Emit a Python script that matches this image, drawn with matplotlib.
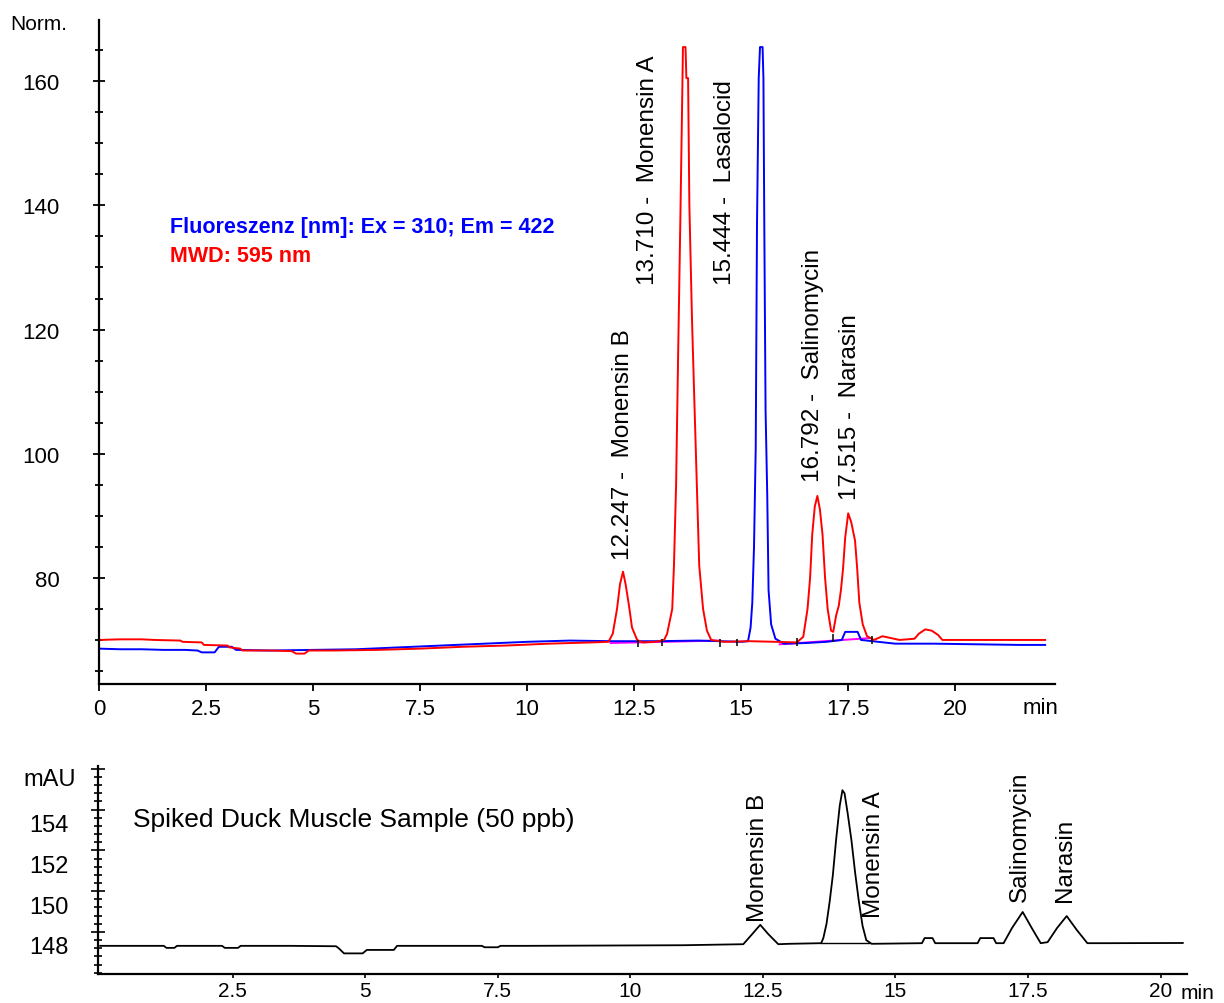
#!/usr/bin/env python3
"""
Chromatogramm: Fluoreszenz / MWD und Spiked Duck Muscle Sample
"""

import matplotlib
matplotlib.use('Agg')
import matplotlib.pyplot as plt
from matplotlib.ticker import MultipleLocator, FixedLocator
from matplotlib.transforms import ScaledTranslation

plt.rcParams['font.family'] = ['Liberation Sans', 'DejaVu Sans']

# ---- Daten oben (Norm.) ----
red_t = [0.0, 0.5, 1.0, 1.3, 1.9, 1.95, 2.4, 2.45, 3.0, 3.05, 3.3, 3.35, 4.0, 4.5, 4.6, 4.8,
         4.9, 5.5, 6.5, 7.5, 8.5, 9.5, 10.5, 11.5, 11.9, 12.0, 12.1, 12.17, 12.24, 12.3,
         12.38, 12.45, 12.57, 12.7, 13.0, 13.2, 13.27, 13.39, 13.43, 13.48, 13.53, 13.58,
         13.62, 13.64, 13.7, 13.72, 13.76, 13.79, 13.85, 13.9, 13.96, 14.02, 14.11, 14.2,
         14.3, 14.6, 15.2, 15.8, 16.3, 16.45, 16.55, 16.61, 16.66, 16.72, 16.78, 16.84,
         16.9, 16.96, 17.02, 17.1, 17.15, 17.22, 17.28, 17.33, 17.38, 17.43, 17.5, 17.57,
         17.66, 17.71, 17.76, 17.84, 17.94, 18.1, 18.3, 18.5, 18.7, 19.05, 19.15, 19.3,
         19.45, 19.6, 19.7, 20.5, 21.5, 22.1]
red_y = [70.0, 70.1, 70.1, 70.0, 69.9, 69.7, 69.6, 69.2, 69.1, 68.8, 68.6, 68.3, 68.3, 68.2, 67.8, 67.8,
         68.3, 68.3, 68.4, 68.6, 68.9, 69.1, 69.4, 69.6, 69.7, 71.0, 75.0, 79.0, 81.0, 79.0,
         75.5, 72.0, 70.0, 69.6, 69.7, 70.0, 71.0, 75.0, 82.0, 95.0, 117.0, 138.0,
         156.0, 165.5, 165.5, 160.5, 160.5, 140.0, 122.0, 110.0, 96.0, 82.0, 75.0, 71.5,
         70.0, 69.7, 69.8, 69.7, 69.6, 70.5, 75.0, 80.0, 87.0, 91.5, 93.2, 91.0,
         87.0, 80.0, 75.0, 71.5, 71.3, 74.0, 75.5, 78.0, 81.5, 86.5, 90.4, 89.0,
         86.0, 81.5, 76.0, 72.5, 70.6, 70.0, 70.6, 70.3, 70.0, 70.2, 71.0, 71.7,
         71.5, 70.8, 70.0, 70.0, 70.0, 70.0]

blue_t = [0.0, 0.5, 1.0, 1.5, 2.0, 2.3, 2.4, 2.7, 2.8, 3.1, 3.2, 4.0, 5.0, 6.0, 7.0, 8.0,
          9.0, 10.0, 11.0, 12.0, 13.0, 14.0, 15.0, 15.16, 15.22, 15.26, 15.3, 15.34, 15.37,
          15.41, 15.44, 15.5, 15.52, 15.54, 15.57, 15.61, 15.64, 15.7, 15.8, 16.0, 16.5,
          17.0, 17.35, 17.43, 17.72, 17.8, 18.2, 18.6, 19.5, 20.5, 21.5, 22.1]
blue_y = [68.6, 68.5, 68.5, 68.4, 68.4, 68.3, 68.0, 68.0, 68.9, 68.9, 68.4, 68.3, 68.4, 68.5, 68.8, 69.1,
          69.4, 69.7, 69.9, 69.8, 69.8, 69.9, 69.7, 69.8, 72.0, 76.0, 85.0, 101.0, 137.0,
          160.5, 165.5, 165.5, 160.5, 137.0, 107.0, 93.0, 78.0, 72.5, 70.2, 69.4, 69.5,
          69.7, 70.0, 71.3, 71.3, 70.0, 69.7, 69.4, 69.4, 69.3, 69.2, 69.2]

# Basislinien (magenta)
base_t = [[11.95, 14.5], [15.9, 18.0]]
base_y = [[69.5, 69.9], [69.3, 70.3]]

# Integrationsmarken
event_t = [12.6, 13.15, 14.5, 14.9, 16.3, 17.15, 18.05]
event_y = [69.4, 69.6, 69.5, 69.6, 69.7, 70.3, 70.0]

peak_rt = [12.247, 13.710, 15.444, 16.792, 17.515]
peak_name = ['Monensin B', 'Monensin A', 'Lasalocid', 'Salinomycin', 'Narasin']
label_pos = [(12.24, 83.0), (12.83, 127.4), (14.63, 127.4), (16.68, 95.6), (17.55, 92.7)]

# ---- Daten unten (mAU) ----
dad_t = [0.0, 1.2, 1.25, 1.4, 1.45, 2.3, 2.35, 2.6, 2.65, 3.6, 4.45, 4.5, 4.6, 4.95, 5.03,
         5.54, 5.6, 7.2, 7.25, 7.5, 7.55, 8.0, 8.05, 11.0, 12.13, 12.3, 12.45, 12.6, 12.79,
         13.0, 13.6, 13.64, 13.7, 13.76, 13.82, 13.88, 13.95, 14.0, 14.04, 14.1, 14.17,
         14.24, 14.31, 14.38, 14.45, 14.55, 15.5, 15.55, 15.7, 15.75, 16.55, 16.6, 16.85,
         16.9, 17.04, 17.2, 17.4, 17.57, 17.74, 17.87, 18.05, 18.23, 18.42, 18.62, 19.0,
         20.42]
dad_y = [147.32, 147.32, 147.22, 147.22, 147.32, 147.32, 147.22, 147.22, 147.32, 147.32, 147.3, 147.2, 146.95, 146.95, 147.12,
         147.12, 147.32, 147.32, 147.25, 147.25, 147.32, 147.32, 147.32, 147.35, 147.4, 147.9, 148.35, 147.9, 147.4,
         147.42, 147.45, 147.7, 148.4, 149.5, 150.8, 152.5, 154.2, 154.95, 154.8, 153.8, 152.5,
         150.9, 149.5, 148.3, 147.6, 147.42, 147.45, 147.7, 147.7, 147.45, 147.45, 147.7, 147.7,
         147.45, 147.45, 148.2, 148.98, 148.2, 147.45, 147.5, 148.2, 148.78, 148.1, 147.45, 147.45,
         147.46]
dad_base_t = [13.6, 14.5]
dad_base_y = [147.45, 147.45]

dad_peak_name = ['Monensin B', 'Monensin A', 'Salinomycin', 'Narasin']
dad_label_pos = [(12.4, 148.55), (14.6, 148.75), (17.35, 149.5), (18.2, 149.5)]

x_ticks_top = [0, 2.5, 5, 7.5, 10, 12.5, 15, 17.5, 20]
x_labels_top = ['0', '2.5', '5', '7.5', '10', '12.5', '15', '17.5', '20']
y_ticks_top = [80, 100, 120, 140, 160]
x_ticks_bot = [2.5, 5, 7.5, 10, 12.5, 15, 17.5, 20]
x_labels_bot = ['2.5', '5', '7.5', '10', '12.5', '15', '17.5', '20']
y_ticks_bot = [148, 150, 152, 154, 156]
y_labels_bot = ['148', '150', '152', '154', '']


def style_axes(ax):
    for s in ['top', 'right']:
        ax.spines[s].set_visible(False)
    for s in ['left', 'bottom']:
        ax.spines[s].set_linewidth(1.6)
        ax.spines[s].set_color('black')


fig = plt.figure(figsize=(12.24, 10.04), dpi=100)

# ---------------- oberes Chromatogramm ----------------
ax1 = fig.add_axes([0.0809, 0.3177, 0.781, 0.661])
style_axes(ax1)
ax1.set_xlim(0, 22.33)
ax1.set_ylim(62.9, 169.8)

for bt, by in zip(base_t, base_y):
    ax1.plot(bt, by, color='#ff00ff', linewidth=1.4)
ax1.plot(blue_t, blue_y, color='#0000ff', linewidth=1.4)
ax1.plot(red_t, red_y, color='#ff0000', linewidth=1.4)
ax1.vlines(event_t, [y - 0.6 for y in event_y], [y + 0.6 for y in event_y], color='black', linewidth=1.1)

for rt, name, (lx, ly) in zip(peak_rt, peak_name, label_pos):
    ax1.text(lx, ly, f'{rt:.3f} -  {name}', rotation=90, ha='center', va='bottom',
             fontsize=17.5, color='black')

ax1.set_xticks(x_ticks_top)
ax1.set_xticklabels(x_labels_top)
ax1.set_yticks(y_ticks_top)
ax1.yaxis.set_minor_locator(MultipleLocator(5))
ax1.tick_params(axis='x', direction='out', length=5, width=1.3, labelsize=16, pad=5)
ax1.tick_params(axis='y', which='major', direction='inout', length=9, width=1.3, labelsize=16, pad=24)
ax1.tick_params(axis='y', which='minor', direction='inout', length=6, width=1.3)

fig.text(170 / 1224, 1 - 228 / 1004, 'Fluoreszenz [nm]: Ex = 310; Em = 422',
         color='#0000ff', fontsize=15.5, fontweight='bold', va='center', ha='left')
fig.text(170 / 1224, 1 - 257 / 1004, 'MWD: 595 nm',
         color='#ff0000', fontsize=15.5, fontweight='bold', va='center', ha='left')
fig.text(10 / 1224, 1 - 24 / 1004, 'Norm.', fontsize=15, ha='left', va='center')
fig.text(1041 / 1224, 1 - 708 / 1004, 'min', fontsize=16, ha='center', va='center')

# ---------------- unteres Chromatogramm ----------------
ax2 = fig.add_axes([0.0801, 0.0289, 0.8897, 0.2072])
style_axes(ax2)
ax2.set_xlim(-0.04, 20.5)
ax2.set_ylim(145.94, 156.14)

ax2.plot(dad_t, dad_y, color='black', linewidth=1.3)
ax2.plot(dad_base_t, dad_base_y, color='black', linewidth=1.0)

for name, (lx, ly) in zip(dad_peak_name, dad_label_pos):
    ax2.text(lx, ly, name, rotation=90, ha='center', va='bottom', fontsize=17.5)

ax2.set_xticks(x_ticks_bot)
ax2.set_xticklabels(x_labels_bot)
ax2.yaxis.set_major_locator(FixedLocator(y_ticks_bot))
ax2.set_yticklabels(y_labels_bot)
ax2.yaxis.set_minor_locator(MultipleLocator(0.4))
ax2.tick_params(axis='x', direction='out', length=3, width=1.2, labelsize=15, pad=2)
ax2.tick_params(axis='y', which='major', direction='inout', length=10, width=1.2, labelsize=17, pad=16)
ax2.tick_params(axis='y', which='minor', direction='inout', length=6, width=1.2)
shift = ScaledTranslation(0, -0.13, fig.dpi_scale_trans)
for lab in ax2.get_yticklabels():
    lab.set_transform(lab.get_transform() + shift)

fig.text(133 / 1224, 1 - 820 / 1004, 'Spiked Duck Muscle Sample (50 ppb)',
         fontsize=19, ha='left', va='center')
fig.text(50 / 1224, 1 - 780 / 1004, 'mAU', fontsize=17, ha='center', va='center')
fig.text(1198 / 1224, 1 - 994 / 1004, 'min', fontsize=15, ha='center', va='center')

plt.savefig('out.png', dpi=100)
